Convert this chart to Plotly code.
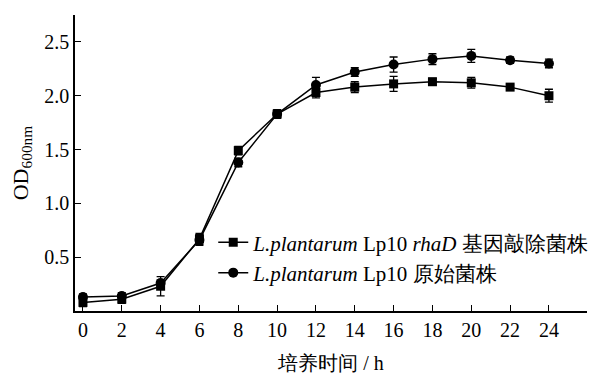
import plotly.graph_objects as go

hours = [0, 2, 4, 6, 8, 10, 12, 14, 16, 18, 20, 22, 24]
ko_od = [0.08, 0.11, 0.23, 0.67, 1.49, 1.83, 2.03, 2.08, 2.11, 2.13, 2.12, 2.08, 2.00]
ko_err = [0.04, 0.04, 0.09, 0.05, 0.04, 0.04, 0.05, 0.05, 0.07, 0.03, 0.05, 0.02, 0.06]
wt_od = [0.13, 0.14, 0.26, 0.66, 1.38, 1.83, 2.10, 2.22, 2.29, 2.34, 2.37, 2.33, 2.30]
wt_err = [0.03, 0.03, 0.03, 0.05, 0.04, 0.03, 0.07, 0.04, 0.07, 0.05, 0.06, 0.03, 0.04]
x_ticks = list(range(0, 25, 2))
y_ticks = [0.5, 1.0, 1.5, 2.0, 2.5]

FONT = "Liberation Serif"

fig = go.Figure()
fig.add_trace(go.Scatter(
    x=hours, y=ko_od, mode="lines+markers",
    name="<i>L.plantarum</i> Lp10 <i>rhaD</i> 基因敲除菌株",
    line=dict(color="black", width=1.5),
    marker=dict(symbol="square", size=9, color="black"),
    error_y=dict(type="data", array=ko_err, color="black", thickness=1.3, width=4),
))
fig.add_trace(go.Scatter(
    x=hours, y=wt_od, mode="lines+markers",
    name="<i>L.plantarum</i> Lp10 原始菌株",
    line=dict(color="black", width=1.5),
    marker=dict(symbol="circle", size=10, color="black"),
    error_y=dict(type="data", array=wt_err, color="black", thickness=1.3, width=4),
))

tf = dict(family=FONT, size=20, color="black")

fig.update_layout(
    width=590, height=374,
    margin=dict(l=75, r=3, t=15, b=63, autoexpand=False),
    paper_bgcolor="white", plot_bgcolor="white",
    font=dict(family=FONT, size=20, color="black"),
    showlegend=True,
    legend=dict(x=0.27, y=0.30, xanchor="left", yanchor="top",
                bgcolor="rgba(0,0,0,0)", font=dict(family=FONT, size=21, color="black"),
                tracegroupgap=0, itemwidth=30),
    xaxis=dict(range=[-0.41, 25.96], tickvals=x_ticks, ticks="inside",
               ticklen=6, tickwidth=1.2, tickcolor="black", tickfont=tf,
               showline=True, linecolor="black", linewidth=1.5,
               showgrid=False, zeroline=False,
               title=dict(text="培养时间 / h", standoff=20, font=tf)),
    yaxis=dict(range=[0, 2.75], tickvals=y_ticks, tickformat=".1f",
               ticks="inside", ticklen=6, tickwidth=1.2, tickcolor="black", tickfont=tf,
               showline=True, linecolor="black", linewidth=1.5,
               showgrid=False, zeroline=False,
               title=dict(text="OD<sub>600nm</sub>", standoff=10,
                          font=dict(family=FONT, size=22, color="black"))),
)

fig.write_html("out.html")
